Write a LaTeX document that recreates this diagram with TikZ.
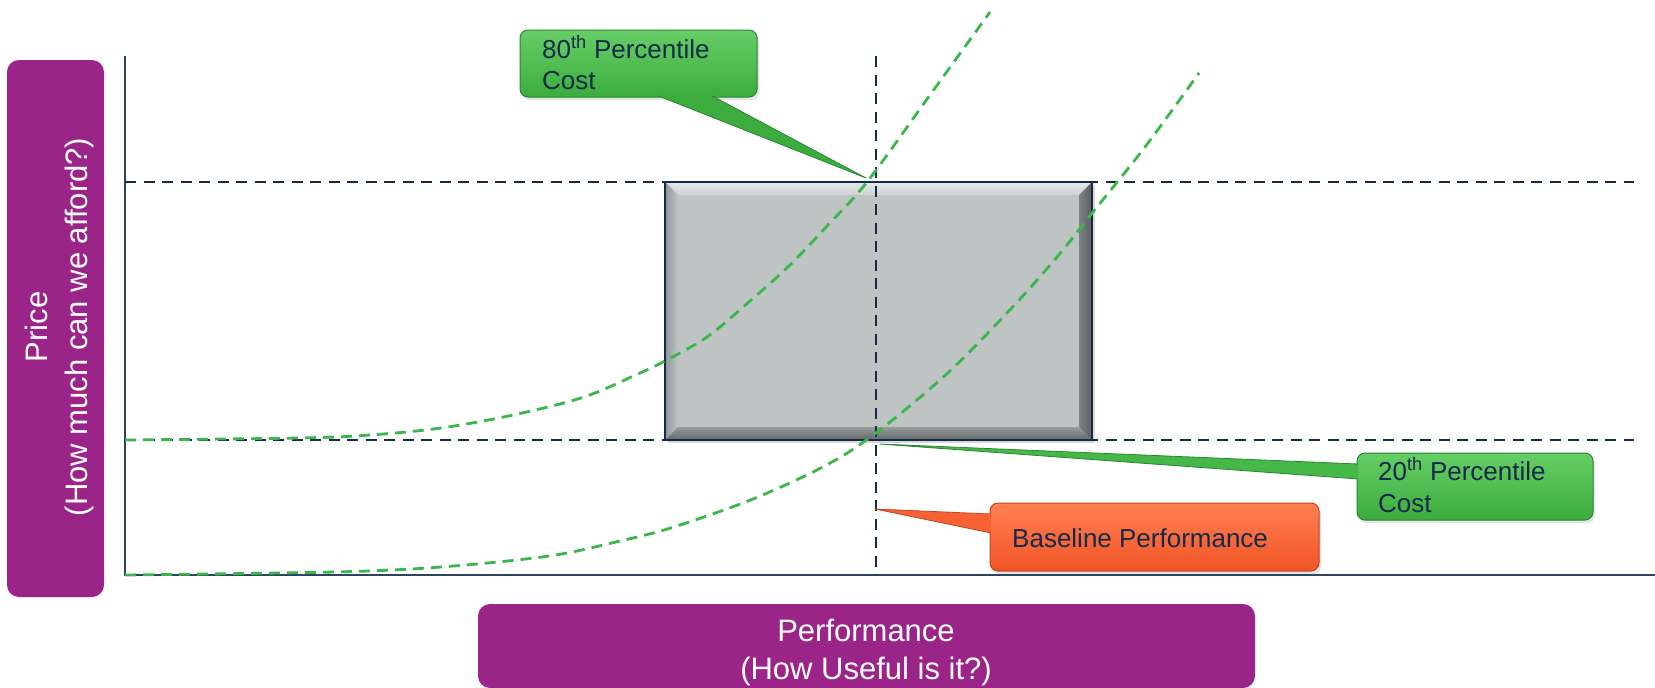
\documentclass[tikz,border=0pt]{standalone}
\usepackage{fontspec}
\setmainfont{Liberation Sans}
\usetikzlibrary{shadows}
\definecolor{navy}{RGB}{20,42,72}
\definecolor{axisc}{RGB}{45,68,95}
\definecolor{purp}{RGB}{155,36,137}
\definecolor{gfill}{RGB}{70,184,72}
\definecolor{gtop}{RGB}{102,206,102}
\definecolor{gbot}{RGB}{60,172,62}
\definecolor{gline}{RGB}{40,135,50}
\definecolor{ofill}{RGB}{247,98,52}
\definecolor{otop}{RGB}{255,128,82}
\definecolor{obot}{RGB}{240,84,38}
\definecolor{oline}{RGB}{195,70,30}
\definecolor{curveg}{RGB}{58,182,74}
\definecolor{boxg}{RGB}{190,195,195}
\definecolor{bevlight}{RGB}{228,232,232}
\definecolor{bevmid}{RGB}{205,210,210}
\definecolor{bevleft}{RGB}{145,150,150}
\definecolor{bevbot1}{RGB}{150,155,155}
\definecolor{bevbot2}{RGB}{98,103,104}
\definecolor{bevr1}{RGB}{125,130,132}
\definecolor{bevr2}{RGB}{88,93,96}
\tikzset{
  refline/.style={navy, line width=2.8pt, dash pattern=on 11pt off 7.5pt},
  curveline/.style={curveg, line width=2.8pt, dash pattern=on 11pt off 7pt},
  axisline/.style={axisc, line width=1.5pt},
  purplebox/.style={fill=purp, rounded corners=12pt, inner sep=0pt, outer sep=0pt},
  purpletext/.style={text=white, font=\fontsize{31}{38}\selectfont, inner sep=0pt},
  calltext/.style={text=navy, font=\fontsize{26}{31}\selectfont, inner sep=0pt, anchor=base west},
  greenbox/.style={draw=gline, line width=1pt, top color=gtop, bottom color=gbot,
    rounded corners=8pt, inner sep=0pt, outer sep=0pt,
    drop shadow={opacity=0.22, shadow xshift=2pt, shadow yshift=-3pt}},
  orangebox/.style={draw=oline, line width=1pt, top color=otop, bottom color=obot,
    rounded corners=8pt, inner sep=0pt, outer sep=0pt,
    drop shadow={opacity=0.22, shadow xshift=2pt, shadow yshift=-3pt}},
  ptredge/.style={line width=0.8pt, line join=round},
  graybox/.style={fill=boxg, inner sep=0pt, outer sep=0pt,
    drop shadow={opacity=0.3, shadow xshift=3pt, shadow yshift=-3pt}},
}
\begin{document}
\begin{tikzpicture}[x=1pt,y=-1pt]
\useasboundingbox (0,0) rectangle (1655,688);
\fill[white] (0,0) rectangle (1655,688);

% axes
\coordinate (yt) at (125,56);
\coordinate (org) at (125,575);
\coordinate (xr) at (1655,575);
\draw[axisline] (yt) -- (org) -- (xr);

% gray box with bevel
\node[graybox, minimum width=427pt, minimum height=258pt, anchor=north west] (gbox) at (665,182) {};
\shade[top color=bevlight, bottom color=bevmid] (gbox.north west) -- (gbox.north east) -- ([shift={(-13,13)}]gbox.north east) -- ([shift={(13,13)}]gbox.north west) -- cycle;
\shade[left color=bevleft, right color=boxg] (gbox.north west) -- ([shift={(13,13)}]gbox.north west) -- ([shift={(13,-13)}]gbox.south west) -- (gbox.south west) -- cycle;
\shade[top color=bevbot1, bottom color=bevbot2] (gbox.south west) -- ([shift={(13,-13)}]gbox.south west) -- ([shift={(-13,-13)}]gbox.south east) -- (gbox.south east) -- cycle;
\shade[left color=bevr1, right color=bevr2] (gbox.north east) -- (gbox.south east) -- ([shift={(-13,-13)}]gbox.south east) -- ([shift={(-13,13)}]gbox.north east) -- cycle;
\draw[navy, line width=2.5pt] (gbox.north west) rectangle (gbox.south east);

% reference dashed lines
\coordinate (h1l) at (125,182); \coordinate (h1r) at (1634,182);
\coordinate (h2l) at (125,440); \coordinate (h2r) at (1634,440);
\coordinate (vt) at (876,56);   \coordinate (vb) at (876,575);
\draw[refline] (h1l) -- (h1r);
\draw[refline] (h2l) -- (h2r);
\draw[refline] (vt) -- (vb);

% green curves
\draw[curveline] plot[smooth, tension=0.55] coordinates {(125,440) (299,438) (370,435) (441,428) (513,415) (584,397) (640,373) (663,362) (707,337) (750,301) (790,265) (827,226) (867,182) (930,95) (990,12)};
\draw[curveline] plot[smooth, tension=0.55] coordinates {(125,575) (334,572) (441,567) (549,556) (620,541) (677,526) (765,494) (852,450) (940,380) (1007,313) (1057,257) (1093,212) (1145,147) (1199,73)};

% callout 80th
\node[greenbox, minimum width=237pt, minimum height=67pt, anchor=north west] (c80) at (520,30) {};
\coordinate (tip80) at (866,178);
\coordinate (b80a) at (658,95.8);
\coordinate (b80b) at (712,95.8);
\fill[gbot] (b80a) -- (tip80) -- (b80b) -- cycle;
\draw[ptredge, draw=gline] (b80a) -- (tip80) -- (b80b);
\node[calltext] (c80a) at (542,58) {80\textsuperscript{th} Percentile};
\node[calltext] (c80b) at (542,89) {Cost};

% callout 20th
\node[greenbox, minimum width=236pt, minimum height=67pt, anchor=north west] (c20) at (1357,453) {};
\coordinate (tip20) at (880,444);
\coordinate (b20a) at (1358.2,464);
\coordinate (b20b) at (1358.2,479);
\fill[gfill] (b20a) -- (tip20) -- (b20b) -- cycle;
\draw[ptredge, draw=gline] (b20a) -- (tip20) -- (b20b);
\node[calltext] (c20a) at (1378,480) {20\textsuperscript{th} Percentile};
\node[calltext] (c20b) at (1378,512) {Cost};

% callout baseline
\node[orangebox, minimum width=329pt, minimum height=68pt, anchor=north west] (cb) at (990,503) {};
\coordinate (tipb) at (875,509);
\coordinate (bba) at (991.2,514);
\coordinate (bbb) at (991.2,533);
\fill[ofill] (bba) -- (tipb) -- (bbb) -- cycle;
\draw[ptredge, draw=oline] (bba) -- (tipb) -- (bbb);
\node[calltext] (cba) at (1012,547) {Baseline Performance};

% purple axis labels
\node[purplebox, minimum width=97pt, minimum height=537pt, anchor=north west] (ylab) at (7,60) {};
\node[purpletext, rotate=90, anchor=base] (yl1) at (47,327) {Price};
\node[purpletext, rotate=90, anchor=base] (yl2) at (87,327) {(How much can we afford?)};

\node[purplebox, minimum width=777pt, minimum height=84pt, anchor=north west] (xlab) at (478,604) {};
\node[purpletext, anchor=base] (xl1) at (866,641) {Performance};
\node[purpletext, anchor=base] (xl2) at (866,679) {(How Useful is it?)};
\end{tikzpicture}
\end{document}
